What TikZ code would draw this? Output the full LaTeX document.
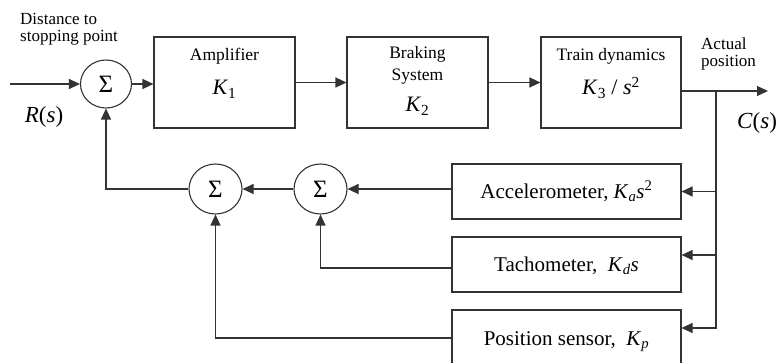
\documentclass[tikz,border=0pt]{standalone}
\usepackage{fontspec}
\setmainfont{Liberation Serif}
\usetikzlibrary{arrows.meta,shapes.geometric}
\newcommand\vi[1]{\textit{#1}}
\begin{document}
\begin{tikzpicture}[x=1pt,y=-1pt,
  line/.style={draw=black!80, line width=1.1pt},
  arr/.style={line, -{Triangle[length=11pt,width=10pt]}},
  blk/.style={draw=black!80, line width=1.1pt, rectangle, inner sep=0pt},
  sumnode/.style={draw=black!80, line width=1.1pt, ellipse, inner sep=0pt, font=\fontsize{25}{25}\selectfont},
  lbl/.style={font=\fontsize{17.5}{18}\selectfont, anchor=base, inner sep=0pt},
  gain/.style={font=\fontsize{22}{22}\selectfont, anchor=base, inner sep=0pt},
  fb/.style={blk, minimum width=229pt, minimum height=55pt, font=\fontsize{21}{21}\selectfont, text height=14pt, text depth=0pt},
  ann/.style={font=\fontsize{17}{16}\selectfont, anchor=base west, inner sep=0pt},
  sig/.style={font=\fontsize{23}{23}\selectfont, inner sep=0pt},
]
\useasboundingbox (0,0) rectangle (782,363);
\clip (0,0) rectangle (782,363);

% forward path
\node[sumnode, minimum width=51pt, minimum height=48pt] (sum) at (106,84) {Σ};
\node[blk, minimum width=141pt, minimum height=91pt] (amp) at (224.5,82.5) {};
\node[lbl] (ampt) at (224.5,61) {Amplifier};
\node[gain] (ampk) at (224.5,95) {\vi{K}\textsubscript{1}};

\node[blk, minimum width=141pt, minimum height=91pt] (brake) at (417.5,82.5) {};
\node[lbl] (braket1) at (417.5,59) {Braking};
\node[lbl] (braket2) at (417.5,81) {System};
\node[gain] (brakek) at (417.5,112) {\vi{K}\textsubscript{2}};

\node[blk, minimum width=140pt, minimum height=91pt] (train) at (611,82.5) {};
\node[lbl] (traint) at (611,60.5) {Train dynamics};
\node[gain] (traink) at (611,95) {\vi{K}\textsubscript{3} / \vi{s}\textsuperscript{2}};

% feedback blocks
\node[fb] (acc) at (566.5,191.5) {Accelerometer, \vi{K}\textsubscript{\vi{a}}\vi{s}\textsuperscript{2}};
\node[fb] (tach) at (566.5,264.5) {Tachometer, \ \vi{K}\textsubscript{\vi{d}}\vi{s}};
\node[fb, minimum height=56pt] (pos) at (566.5,338) {Position sensor, \ \vi{K}\textsubscript{\vi{p}}};

\node[sumnode, minimum width=53pt, minimum height=50pt] (c1) at (215.5,189) {Σ};
\node[sumnode, minimum width=53pt, minimum height=50pt] (c2) at (320.5,189) {Σ};

% annotations
\node[ann] (dist1) at (20,25) {Distance to};
\node[ann] (dist2) at (20,42) {stopping point};
\node[ann] (act1) at (701,50) {Actual};
\node[ann] (act2) at (701,67) {position};
\node[sig] (rs) at (44,117) {\vi{R}(\vi{s})};
\node[sig] (cs) at (757,123) {\vi{C}(\vi{s})};

% connectors
\coordinate (in) at (10,84);
\coordinate (out) at (768,91);
\coordinate (br) at (716,91);
\coordinate (trainout) at ([yshift=-8.5pt]train.east);
\coordinate (tachin) at ([yshift=9.5pt]tach.east);
\coordinate (posin) at ([yshift=10pt]pos.east);
\coordinate (tachout) at ([yshift=-3.5pt]tach.west);

\draw[arr] (in) -- (sum.west);
\draw[arr] (sum.east) -- (sum.east -| amp.west);
\draw[arr] (amp.east) -- (brake.west);
\draw[arr] (brake.east) -- (train.west);
\draw[arr] (trainout) -- (out);
\draw[arr] (br) |- (posin);
\draw[arr] (br |- acc.east) -- (acc.east);
\draw[arr] (br |- tachin) -- (tachin);
\draw[arr] (acc.west |- c2.east) -- (c2.east);
\draw[arr] (tachout) -| (c2.south);
\draw[arr] (pos.west) -| (c1.south);
\draw[arr] (c2.west) -- (c1.east);
\draw[arr] (c1.west) -| (sum.south);
\end{tikzpicture}
\end{document}
